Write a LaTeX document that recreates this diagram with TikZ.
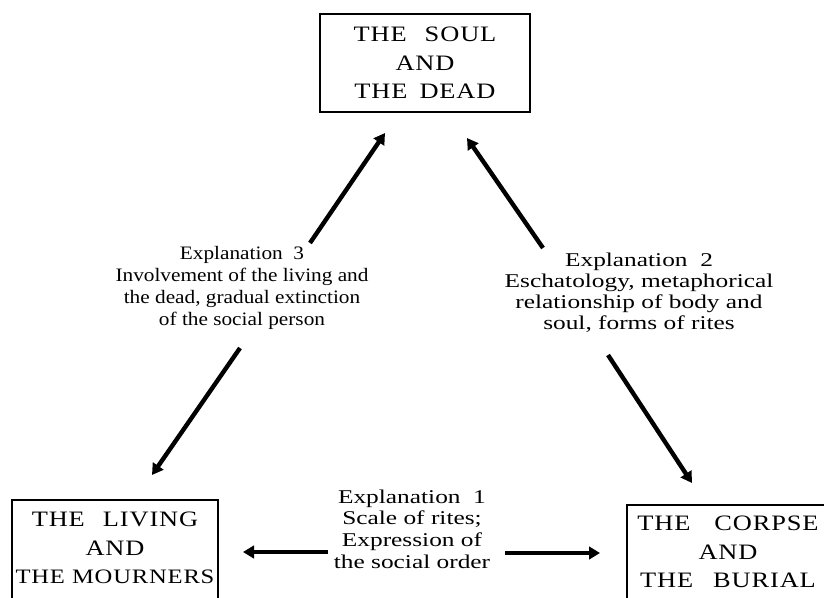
\documentclass[tikz,border=0pt]{standalone}
\usepackage{fontspec}
\setmainfont{Liberation Serif}
\newfontfamily\boxfont[FakeStretch=1.2,LetterSpace=4]{Liberation Serif}
\newfontfamily\explfont[FakeStretch=1.12]{Liberation Serif}
\newfontfamily\explwidefont[FakeStretch=1.3]{Liberation Serif}
\usetikzlibrary{arrows.meta}
\begin{document}
\begin{tikzpicture}[x=1pt,y=-1pt,
  boxline/.style={line width=1.5pt},
  boxtext/.style={inner sep=0pt, align=center, font=\boxfont\fontsize{22}{28.5}\selectfont},
  expl/.style={inner sep=0pt, align=center},
  arr/.style={line width=4.4pt, -{Triangle[length=11pt,width=12.5pt]}}]
\useasboundingbox (0,0) rectangle (824,597);
\clip (0,0) rectangle (824,597);
% boxes
\node[boxtext, draw, boxline, minimum width=210pt, minimum height=98pt] (soul) at (425,63)
  {THE\hspace{18pt}SOUL\\AND\\THE\hspace{12pt}DEAD};
\node[boxtext] (living) at (115,548)
  {THE\hspace{18pt}LIVING\\AND\\{\fontsize{20.5}{28.5}\selectfont THE\hspace{7pt}MOURNERS}};
\draw[boxline] (12,500) rectangle (218,620);
\node[boxtext] (corpse) at (728,552)
  {THE\hspace{24pt}CORPSE\\AND\\THE\hspace{20pt}BURIAL};
\draw[boxline] (627,505) rectangle (840,620);
% explanations
\node[expl, font=\explfont\fontsize{19}{22}\selectfont] (e3) at (242,288)
  {Explanation\ \ 3\\Involvement of the living and\\the dead, gradual extinction\\of the social person};
\node[expl, font=\explwidefont\fontsize{19.5}{21}\selectfont] (e2) at (639,293)
  {Explanation\ \ 2\\Eschatology,\ metaphorical\\relationship of body and\\soul, forms of rites};
\node[expl, font=\explwidefont\fontsize{19.5}{21.7}\selectfont] (e1) at (412,529)
  {Explanation\ \ 1\\Scale of rites;\\Expression of\\the social order};
% arrow ends
\coordinate (a1) at (310,243); \coordinate (a2) at (385,133);
\coordinate (b1) at (543,248); \coordinate (b2) at (467,138);
\coordinate (c1) at (240,348); \coordinate (c2) at (152,475);
\coordinate (d1) at (608,355); \coordinate (d2) at (692,483);
\coordinate (f1) at (328,552); \coordinate (f2) at (243,552);
\coordinate (g1) at (505,553); \coordinate (g2) at (600,553);
\draw[arr] (a1) -- (a2);
\draw[arr] (b1) -- (b2);
\draw[arr] (c1) -- (c2);
\draw[arr] (d1) -- (d2);
\draw[arr] (f1) -- (f2);
\draw[arr] (g1) -- (g2);
\end{tikzpicture}
\end{document}
